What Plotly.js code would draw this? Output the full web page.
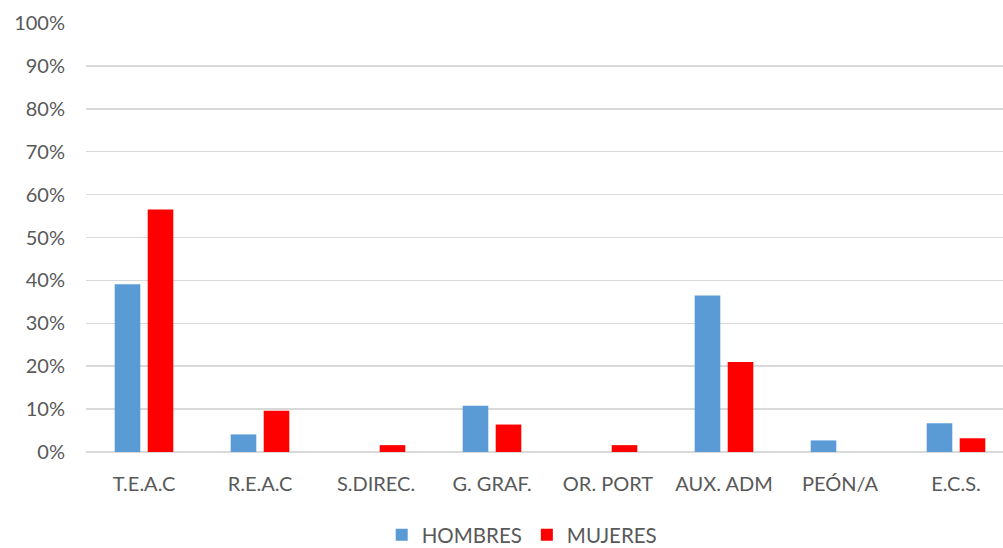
<!DOCTYPE html>
<html>
<head>
<meta charset="utf-8">
<script src="https://cdn.plot.ly/plotly-3.0.1.min.js"></script>
<style>html,body{margin:0;padding:0;background:#fff;overflow:hidden;}#chart{width:1014px;height:548px;}</style>
</head>
<body>
<div id="chart"></div>
<script>
const categories = ["T.E.A.C", "R.E.A.C", "S.DIREC.", "G. GRAF.", "OR. PORT", "AUX. ADM", "PEÓN/A", "E.C.S."];
const hombres = [0.391, 0.041, 0, 0.108, 0, 0.365, 0.027, 0.067];
const mujeres = [0.565, 0.096, 0.016, 0.064, 0.016, 0.210, 0, 0.032];
const tickVals = [0, 0.1, 0.2, 0.3, 0.4, 0.5, 0.6, 0.7, 0.8, 0.9, 1.0];
const tickText = ["0%", "10%", "20%", "30%", "40%", "50%", "60%", "70%", "80%", "90%", "100%"];

const font = {family: "Lato, Open Sans, sans-serif", size: 20, color: "#595959"};
const data = [
  {type: "bar", name: "HOMBRES", x: categories, y: hombres,
   marker: {color: "#5b9bd5", line: {width: 0}}},
  {type: "bar", name: "MUJERES", x: categories, y: mujeres,
   marker: {color: "#ff0000", line: {width: 0}}}
];
const layout = {
  width: 1014, height: 548,
  margin: {l: 86, r: 0, t: 23, b: 96},
  paper_bgcolor: "#ffffff", plot_bgcolor: "#ffffff",
  font: font,
  barmode: "group", bargap: 0.431, bargroupgap: 0.224,
  showlegend: true,
  legend: {orientation: "h", x: 0.515, xanchor: "center", xref: "container",
           y: 0.024, yanchor: "middle", yref: "container",
           font: {family: font.family, size: 20.5, color: font.color}, itemwidth: 30, traceorder: "normal"},
  xaxis: {type: "category", showgrid: false, zeroline: false, showline: false,
          ticks: "", tickfont: font, ticklabelstandoff: 18, automargin: false},
  yaxis: {range: [0, 1.0], tickvals: tickVals, ticktext: tickText,
          showgrid: true, gridcolor: "#d9d9d9", gridwidth: 1.5,
          zeroline: true, zerolinecolor: "#d9d9d9", zerolinewidth: 1.5,
          showline: false, ticks: "", tickfont: font, ticklabelstandoff: 20, automargin: false}
};
Plotly.newPlot("chart", data, layout, {displayModeBar: false, staticPlot: true});
</script>
</body>
</html>
